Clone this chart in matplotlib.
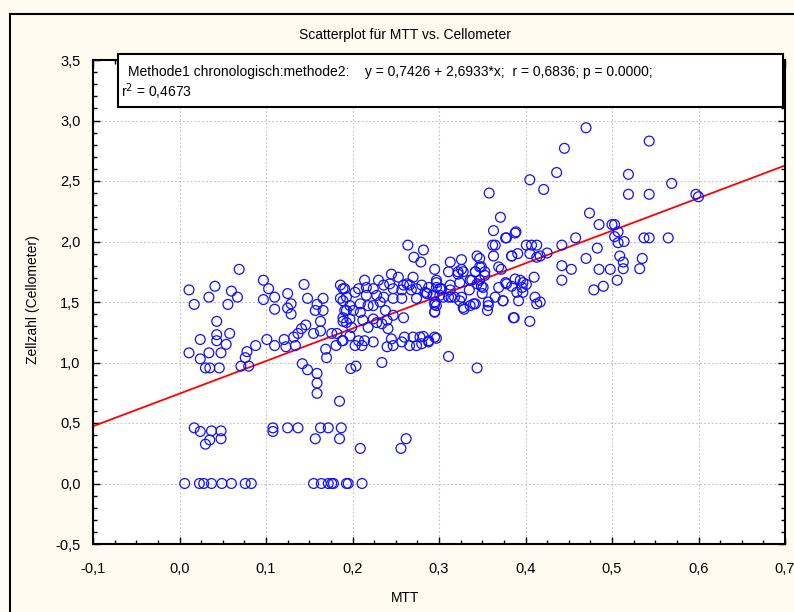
import matplotlib.pyplot as plt
from matplotlib.ticker import MultipleLocator, FuncFormatter
from matplotlib.patches import Rectangle
from matplotlib.lines import Line2D

plt.rcParams['font.family'] = ['Liberation Sans', 'DejaVu Sans']

# MTT vs. Cellometer
# Punkte bei Zellzahl 0
mtt_null = [0.006, 0.023, 0.028, 0.037, 0.049, 0.060, 0.076, 0.083,
            0.155, 0.164, 0.172, 0.176, 0.178, 0.193, 0.195, 0.211]
cel_null = [0.0] * len(mtt_null)

# niedrige Werte (0,3 - 1,1)
mtt_low = [0.017, 0.024, 0.037, 0.035, 0.030, 0.048, 0.048, 0.108, 0.108, 0.125,
           0.137, 0.157, 0.163, 0.172, 0.187, 0.185, 0.209, 0.256, 0.262, 0.185,
           0.198, 0.204, 0.234, 0.311, 0.344, 0.030, 0.035, 0.046, 0.071, 0.080,
           0.142, 0.148, 0.159, 0.159, 0.159, 0.170, 0.076, 0.078]
cel_low = [0.46, 0.43, 0.435, 0.36, 0.325, 0.435, 0.37, 0.46, 0.43, 0.46,
           0.46, 0.37, 0.46, 0.46, 0.46, 0.37, 0.29, 0.29, 0.37, 0.68,
           0.95, 0.97, 1.00, 1.05, 0.955, 0.955, 0.955, 0.955, 0.97, 0.97,
           0.99, 0.94, 0.91, 0.83, 0.745, 1.04, 1.04, 1.09]

# linker Bereich (MTT < 0,19)
mtt_left = [0.069, 0.011, 0.017, 0.034, 0.041, 0.060, 0.056, 0.067, 0.043, 0.024,
            0.043, 0.043, 0.058, 0.054, 0.011, 0.024, 0.034, 0.048, 0.088, 0.097,
            0.103, 0.097, 0.110, 0.110, 0.101, 0.110, 0.125, 0.125, 0.129, 0.129,
            0.121, 0.123, 0.132, 0.134, 0.137, 0.141, 0.146, 0.144, 0.148, 0.159,
            0.166, 0.157, 0.166, 0.163, 0.163, 0.155, 0.169, 0.176, 0.181, 0.186,
            0.191, 0.186, 0.191, 0.189, 0.189, 0.182]
cel_left = [1.77, 1.60, 1.48, 1.54, 1.63, 1.59, 1.48, 1.54, 1.34, 1.19,
            1.23, 1.18, 1.24, 1.15, 1.08, 1.03, 1.08, 1.08, 1.14, 1.68,
            1.61, 1.52, 1.54, 1.44, 1.19, 1.14, 1.57, 1.45, 1.485, 1.40,
            1.19, 1.13, 1.21, 1.14, 1.24, 1.28, 1.31, 1.645, 1.53, 1.48,
            1.53, 1.43, 1.43, 1.34, 1.26, 1.24, 1.11, 1.24, 1.14, 1.64,
            1.61, 1.53, 1.43, 1.34, 1.18, 1.24]

# dichter Bereich (MTT 0,19 - 0,30)
mtt_mid = [0.189, 0.193, 0.189, 0.197, 0.193, 0.189, 0.197, 0.193, 0.199, 0.203,
           0.207, 0.214, 0.216, 0.216, 0.224, 0.228, 0.230, 0.236, 0.236, 0.232,
           0.224, 0.218, 0.209, 0.209, 0.201, 0.212, 0.218, 0.224, 0.228, 0.238,
           0.240, 0.241, 0.234, 0.207, 0.211, 0.203, 0.214, 0.224, 0.188, 0.197,
           0.240, 0.247, 0.245, 0.284, 0.288, 0.280, 0.274, 0.274, 0.268, 0.266,
           0.270, 0.263, 0.259, 0.257, 0.257, 0.247, 0.243, 0.245, 0.253, 0.247,
           0.247, 0.259, 0.260, 0.257, 0.266, 0.270, 0.274, 0.278, 0.280, 0.288,
           0.297, 0.282, 0.264, 0.271, 0.282, 0.279, 0.288, 0.295, 0.295, 0.286]
cel_mid = [1.61, 1.54, 1.51, 1.47, 1.43, 1.37, 1.36, 1.33, 1.29, 1.58,
           1.61, 1.68, 1.62, 1.555, 1.61, 1.555, 1.68, 1.64, 1.54, 1.50,
           1.47, 1.47, 1.485, 1.415, 1.43, 1.35, 1.29, 1.36, 1.33, 1.43,
           1.35, 1.28, 1.32, 1.18, 1.14, 1.14, 1.18, 1.17, 1.18, 1.22,
           1.13, 1.14, 1.195, 1.58, 1.62, 1.64, 1.61, 1.53, 1.60, 1.64,
           1.705, 1.65, 1.64, 1.53, 1.60, 1.61, 1.65, 1.73, 1.705, 1.53,
           1.39, 1.37, 1.21, 1.17, 1.14, 1.21, 1.14, 1.21, 1.155, 1.17,
           1.20, 1.215, 1.97, 1.87, 1.93, 1.83, 1.18, 1.21, 1.48, 1.57]

# Bereich MTT 0,29 - 0,42
mtt_right = [0.363, 0.378, 0.388, 0.362, 0.344, 0.363, 0.384, 0.295, 0.313, 0.326,
             0.311, 0.322, 0.328, 0.342, 0.347, 0.353, 0.369, 0.372, 0.378, 0.388,
             0.386, 0.374, 0.365, 0.357, 0.356, 0.351, 0.350, 0.342, 0.336, 0.329,
             0.338, 0.344, 0.347, 0.335, 0.324, 0.326, 0.318, 0.313, 0.311, 0.297,
             0.297, 0.303, 0.301, 0.295, 0.295, 0.297, 0.405, 0.358, 0.371, 0.389,
             0.377, 0.365, 0.401, 0.407, 0.413, 0.384, 0.391, 0.405, 0.413, 0.347,
             0.410, 0.394, 0.397, 0.401, 0.396, 0.390, 0.384, 0.377, 0.369, 0.411,
             0.413, 0.392, 0.357, 0.387, 0.405, 0.340, 0.328, 0.336, 0.349, 0.342,
             0.353, 0.349, 0.313, 0.301, 0.286, 0.297, 0.322, 0.326, 0.314, 0.305,
             0.293, 0.295, 0.324, 0.397, 0.374, 0.417]
cel_right = [2.09, 2.03, 2.07, 1.97, 1.88, 1.88, 1.88, 1.77, 1.83, 1.85,
             1.75, 1.75, 1.75, 1.75, 1.79, 1.75, 1.79, 1.77, 1.65, 1.69,
             1.37, 1.51, 1.54, 1.50, 1.43, 1.62, 1.57, 1.485, 1.47, 1.44,
             1.68, 1.65, 1.68, 1.60, 1.66, 1.54, 1.54, 1.60, 1.54, 1.66,
             1.62, 1.61, 1.555, 1.50, 1.42, 1.47, 2.51, 2.40, 2.20, 2.08,
             2.03, 1.97, 1.97, 1.97, 1.97, 1.88, 1.90, 1.90, 1.87, 1.86,
             1.705, 1.68, 1.66, 1.645, 1.62, 1.58, 1.63, 1.66, 1.62, 1.54,
             1.485, 1.51, 1.47, 1.37, 1.34, 1.485, 1.455, 1.68, 1.63, 1.75,
             1.72, 1.79, 1.64, 1.61, 1.57, 1.68, 1.73, 1.77, 1.54, 1.54,
             1.555, 1.415, 1.51, 1.58, 1.51, 1.50]

# rechter Bereich (MTT > 0,42)
mtt_far = [0.470, 0.543, 0.445, 0.436, 0.421, 0.519, 0.569, 0.519, 0.543, 0.597,
           0.600, 0.474, 0.485, 0.500, 0.503, 0.507, 0.503, 0.507, 0.514, 0.537,
           0.543, 0.565, 0.458, 0.442, 0.483, 0.470, 0.509, 0.513, 0.513, 0.506,
           0.535, 0.532, 0.498, 0.485, 0.490, 0.479, 0.442, 0.453, 0.442, 0.425,
           0.417]
cel_far = [2.94, 2.83, 2.77, 2.57, 2.43, 2.555, 2.48, 2.39, 2.39, 2.39,
           2.37, 2.235, 2.14, 2.14, 2.14, 2.08, 2.04, 1.99, 2.00, 2.03,
           2.03, 2.03, 2.03, 1.97, 1.945, 1.86, 1.88, 1.83, 1.775, 1.68,
           1.86, 1.775, 1.77, 1.77, 1.63, 1.60, 1.80, 1.77, 1.68, 1.905,
           1.88]

mtt = mtt_null + mtt_low + mtt_left + mtt_mid + mtt_right + mtt_far
cel = cel_null + cel_low + cel_left + cel_mid + cel_right + cel_far

# Regressionsgerade y = 0,7426 + 2,6933*x
a, b = 0.7426, 2.6933
x_line = [-0.1, 0.7]
y_line = [a + b * v for v in x_line]

fig = plt.figure(figsize=(7.94, 6.12), dpi=100)
fig.patch.set_facecolor('#fffbf0')
ax = fig.add_axes([93 / 794, 1 - 544 / 612, 692 / 794, 484 / 612])
ax.set_facecolor('white')

ax.plot(x_line, y_line, color='#ff0000', lw=1.3, zorder=2)
ax.scatter(mtt, cel, s=50, facecolors='none', edgecolors='#1010ff',
           linewidths=0.9, zorder=3)

ax.set_xlim(-0.1, 0.7)
ax.set_ylim(-0.5, 3.5)
ax.xaxis.set_major_locator(MultipleLocator(0.1))
ax.xaxis.set_minor_locator(MultipleLocator(0.025))
ax.yaxis.set_major_locator(MultipleLocator(0.5))
ax.yaxis.set_minor_locator(MultipleLocator(0.1))
ax.xaxis.set_major_formatter(FuncFormatter(lambda v, p: f'{v:.1f}'.replace('.', ',')))
ax.yaxis.set_major_formatter(FuncFormatter(lambda v, p: f'{v:.1f}'.replace('.', ',')))
ax.tick_params(which='both', direction='in', top=True, right=True,
               labelsize=10.5, width=1)
ax.tick_params(axis='x', which='major', pad=13)
ax.tick_params(axis='y', which='major', pad=9)
ax.tick_params(which='major', length=5)
ax.tick_params(which='minor', length=3)
for s in ax.spines.values():
    s.set_linewidth(1.5)
ax.grid(True, which='major', color='#c0c0c0', linestyle=(0, (1.5, 2)), lw=0.8)
ax.set_axisbelow(True)

fig.text(405 / 794, 1 - 35 / 612, 'Scatterplot für MTT vs. Cellometer',
         ha='center', va='center', fontsize=10)
fig.text(405 / 794, 1 - 598 / 612, 'MTT', ha='center', va='center', fontsize=10)
fig.text(33 / 794, 1 - 300 / 612, 'Zellzahl (Cellometer)', ha='center',
         va='center', rotation=90, fontsize=10)

# Textkasten mit Regressionsgleichung
fig.patches.append(Rectangle((118 / 794, 1 - 107 / 612), 665 / 794, 53 / 612,
                             transform=fig.transFigure, facecolor='white',
                             edgecolor='black', lw=1.5, zorder=5))
fig.text(128 / 794, 1 - 72 / 612,
         'Methode1 chronologisch:methode2:    y = 0,7426 + 2,6933*x;  r = 0,6836; p = 0.0000;',
         ha='left', va='center', fontsize=10, zorder=6)
fig.text(121 / 794, 1 - 92 / 612, 'r$^2$ = 0,4673', ha='left', va='center',
         fontsize=10, zorder=6)

# Rahmen links und oben
fig.lines.append(Line2D([10 / 794, 10 / 794], [0, 1 - 14 / 612],
                        transform=fig.transFigure, color='black', lw=1.5))
fig.lines.append(Line2D([10 / 794, 1], [1 - 14 / 612, 1 - 14 / 612],
                        transform=fig.transFigure, color='black', lw=1.5))

plt.savefig('out.png', dpi=100, facecolor=fig.get_facecolor())
